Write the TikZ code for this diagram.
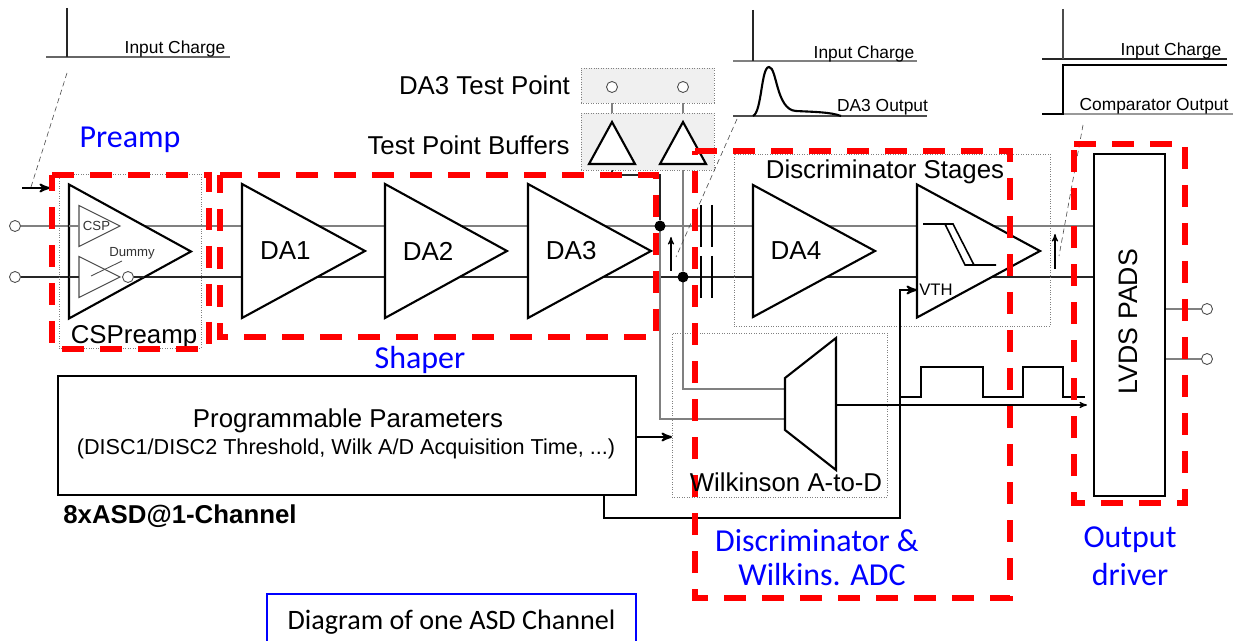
\documentclass[tikz,border=0pt]{standalone}
\usepackage{fontspec}
\setmainfont{Liberation Sans}
\newfontfamily\calibriFont{Carlito}
\usetikzlibrary{
    arrows,
    backgrounds,
    calc,
    shapes.geometric,
}
\newlength{\px}
\setlength{\px}{0.02cm}
\newcommand{\fs}[1]{\fontsize{#1}{#1}\selectfont}
\begin{document}
\begin{tikzpicture}[x=\px,y=-\px,>=stealth']

    \tikzstyle{commonNode}=[line width=1.2pt, draw=black, inner sep=0, outer sep=0, align=center]
    \tikzstyle{amp}=[commonNode, fill=white, isosceles triangle, isosceles triangle stretches, anchor=lower side, minimum width=134\px, minimum height=123\px, font=\fs{14.8pt}]
    \tikzstyle{smallAmp}=[amp, line width=0.6pt, draw=black!70, minimum width=41\px, minimum height=41\px, font=\fs{7.5pt}]
    \tikzstyle{buffer}=[amp, shape border rotate=90, minimum width=46\px, minimum height=42\px]
    \tikzstyle{box}=[commonNode, rectangle, fill=white, minimum width=0, minimum height=0]
    \tikzstyle{stage}=[rectangle, draw=black!50, line width=0.4pt, densely dotted, inner sep=0, outer sep=0]
    \tikzstyle{testBox}=[stage, fill=black!6]
    \tikzstyle{regionArea}=[rectangle, inner sep=0, outer sep=0]
    \tikzstyle{regionLine}=[draw=red, line width=2.9pt, dash pattern=on 22\px off 16\px]
    \tikzstyle{pin}=[circle, draw=black!70, fill=white, line width=0.5pt, minimum size=11\px, inner sep=0, outer sep=0]
    \tikzstyle{dot}=[circle, fill=black, minimum size=11\px, inner sep=0, outer sep=0]
    \tikzstyle{caption}=[inner sep=0, outer sep=0, font=\fs{9.9pt}]
    \tikzstyle{label}=[inner sep=0, outer sep=0, font=\fs{14.7pt}]
    \tikzstyle{blueLabel}=[inner sep=0, outer sep=0, text=blue, font=\calibriFont\fs{18.2pt}]
    \tikzstyle{wireTop}=[draw=black!50, line width=0.7pt]
    \tikzstyle{wireBot}=[draw=black!85, line width=0.7pt]
    \tikzstyle{leader}=[draw=black!70, line width=0.35pt, densely dashed]
    \tikzstyle{thin arrow}=[->, draw=black, line width=0.6pt]
    \tikzstyle{thick arrow}=[->, draw=black, line width=1.1pt]

    \useasboundingbox (0,0) rectangle (1233,641);

    % Test points and stage outlines
    \node at (647.5,85.5) [testBox, minimum width=133\px, minimum height=35\px] (TPbox) {};
    \node at (647.5,141.5) [testBox, minimum width=133\px, minimum height=57\px] (TBbox) {};
    \node at (130,261) [stage, minimum width=142\px, minimum height=174\px] (CSbox) {};
    \node at (892,240) [stage, minimum width=316\px, minimum height=172\px] (DSbox) {};
    \node at (779.5,415) [stage, minimum width=215\px, minimum height=164\px] (WKbox) {};

    % Inputs
    \node at (15,226) [pin] (INa) {};
    \node at (15,277) [pin] (INb) {};

    % Amplifiers
    \node at (69,251.5) [amp, minimum height=122\px] (CSP) {};
    \node at (79,226) [smallAmp] (CSPa) {};
    \node at (79,277) [smallAmp] (CSPb) {};
    \node at (128,277) [pin] (CSPout) {};
    \node at (242,251) [amp] (DAa) {DA1};
    \node at (385,251) [amp, minimum height=122\px] (DAb) {DA2};
    \node at (528,251) [amp] (DAc) {DA3};
    \node at (753,251) [amp, minimum width=132\px, minimum height=122\px] (DAd) {DA4};
    \node at (917,251) [amp, minimum width=133\px] (DISC) {};

    % Test point buffers
    \node at (612,164) [buffer] (BUFa) {};
    \node at (683,164) [buffer] (BUFb) {};
    \node at (612,87) [pin] (TPa) {};
    \node at (683,87) [pin] (TPb) {};

    % Output pads and parameters
    \node at (1129.5,325) [box, minimum width=71\px, minimum height=342\px] (LVDS) {};
    \node at (1128,322) [label, rotate=90, font=\fs{15.2pt}] (LVDStxt) {LVDS PADS};
    \node at (1207,309) [pin] (OUTa) {};
    \node at (1207,359) [pin] (OUTb) {};
    \node at (347,435.5) [box, minimum width=578\px, minimum height=119\px] (PP) {};
    \node at (348,421) [label] (PPa) {Programmable Parameters};
    \node at (346,449) [label, font=\fs{12.3pt}] (PPb) {(DISC1/DISC2 Threshold, Wilk A/D Acquisition Time, ...)};

    % Wilkinson ADC
    \coordinate (MUXa) at (785,378);
    \coordinate (MUXb) at (836,338);
    \coordinate (MUXc) at (836,470);
    \coordinate (MUXd) at (785,430);
    \draw[line width=1.2pt, fill=white] (MUXa) -- (MUXb) -- (MUXc) -- (MUXd) -- cycle;

    % Junctions
    \node at (660,226) [dot] (JNa) {};
    \node at (683,277) [dot] (JNb) {};

    % Free ends of the connectors
    \coordinate (CHGin) at (22,188);
    \coordinate (CHGhit) at (50,188);
    \coordinate (STPa) at (612,175);
    \coordinate (PULSEa) at (900,397);
    \coordinate (PULSEb) at (1085,397);
    \coordinate (VTHa) at (900,290);
    \coordinate (VTHb) at (917,290);

    \begin{pgfonlayer}{background}
        \draw[wireTop] (INa) -- (LVDS.west |- INa);
        \draw[wireBot] (INb) -- (LVDS.west |- INb);
        \draw[wireTop] (LVDS.east |- OUTa) -- (OUTa);
        \draw[wireTop] (LVDS.east |- OUTb) -- (OUTb);
        \draw[wireTop] (TPa) -- (BUFa.apex);
        \draw[wireTop] (TPb) -- (BUFb.apex);
        \draw[wireBot] (BUFa.lower side) -- (STPa) -| (JNa);
        \draw[wireTop] (JNa) |- (MUXa |- 0,419);
        \draw[wireTop] (BUFb.lower side) -- (JNb);
        \draw[wireTop] (JNb) |- (MUXa |- 0,389);
    \end{pgfonlayer}

    % Inside the preamp
    \draw[wireTop] (CSP.lower side |- CSPa) -- (CSPa.lower side);
    \draw[wireBot] (CSP.lower side |- CSPb) -- (CSPb.lower side);
    \coordinate (CSPedge) at (144,277);
    \draw[wireBot] (CSPout) -- (CSPedge);
    \coordinate (SLASHa) at (91,276);
    \coordinate (SLASHb) at (122,261);
    \draw[black!70, line width=0.5pt] (SLASHa) -- (SLASHb);
    \node at (96.5,226) [caption, font=\fs{7.5pt}, text=black!80] (CSPtxt) {CSP};
    \node at (132,253) [caption, font=\fs{7.5pt}, text=black!80] (DUMtxt) {Dummy};
    \node at (134,337) [label] (CStxt) {CSPreamp};

    % Coupling capacitors
    \draw[line width=1.6pt] (701,205) -- (701,247) (712,205) -- (712,247);
    \draw[line width=1.6pt] (701,256) -- (701,298) (712,256) -- (712,298);

    % Comparator hysteresis
    \coordinate (HYa) at (923,224);
    \coordinate (HYb) at (945,224);
    \coordinate (HYc) at (953,224);
    \coordinate (HYd) at (965,265);
    \coordinate (HYe) at (974,265);
    \coordinate (HYf) at (996,265);
    \draw[line width=0.9pt] (HYa) -- (HYc) -- (HYe);
    \draw[line width=0.9pt] (HYb) -- (HYd) -- (HYf);
    \node at (936,290) [caption, font=\fs{9.5pt}] (VTHtxt) {VTH};
    \draw[thick arrow] (PP.south -| 604,0) -- (604,518) -- (900,518) -- (VTHa) -- (VTHb);

    % Parameters into the ADC and ADC out
    \draw[thick arrow] (PP.east |- 0,437) -- (WKbox.west |- 0,437);
    \draw[thin arrow] (MUXb |- 0,405) -- (1087,405);
    \draw[line width=0.9pt] (PULSEa) -- (921,397) -- (921,367) -- (983,367) -- (983,397) -- (1023,397) -- (1023,367) -- (1063,367) -- (1063,397) -- (PULSEb);

    % Input charge, first plot
    \coordinate (AXa) at (46,57);
    \coordinate (AXb) at (230,57);
    \coordinate (AXc) at (67,8);
    \coordinate (AXd) at (67,57);
    \coordinate (LDa) at (67,73);
    \coordinate (LDb) at (31,187);
    \draw[black!60, line width=0.7pt] (AXa) -- (AXb);
    \draw[black!85, line width=1pt] (AXc) -- (AXd);
    \draw[leader] (LDa) -- (LDb);
    \draw[thick arrow] (CHGin) -- (CHGhit);
    \node at (175,49) [caption] (CHGa) {Input Charge};

    % DA3 output plot
    \coordinate (AYa) at (733,61);
    \coordinate (AYb) at (917,61);
    \coordinate (AYc) at (753,10);
    \coordinate (AYd) at (753,61);
    \coordinate (AYe) at (733,116);
    \coordinate (AYf) at (927,116);
    \coordinate (LEa) at (737,119);
    \coordinate (LEb) at (676,257);
    \coordinate (ARa) at (671,271);
    \coordinate (ARb) at (671,237);
    \draw[black!50, line width=0.9pt] (AYa) -- (AYb);
    \draw[black!85, line width=0.8pt] (AYc) -- (AYd);
    \draw[black!70, line width=0.7pt] (AYe) -- (AYf);
    \draw[line width=1.2pt] (753,116) .. controls (762,112) and (761,67) .. (769,67) .. controls (777,67) and (776,110) .. (796,111) .. controls (815,112) and (830,112) .. (841,116);
    \draw[leader] (LEa) -- (LEb);
    \draw[thin arrow] (ARa) -- (ARb);
    \node at (864,54) [caption] (CHGb) {Input Charge};
    \node at (882.5,107) [caption] (DAout) {DA3 Output};

    % Comparator output plot
    \coordinate (AZa) at (1042,59);
    \coordinate (AZb) at (1227,59);
    \coordinate (AZc) at (1063,9);
    \coordinate (AZd) at (1063,59);
    \coordinate (AZe) at (1042,114);
    \coordinate (AZf) at (1063,114);
    \coordinate (AZg) at (1063,65);
    \coordinate (AZh) at (1227,65);
    \coordinate (AZi) at (1233,114);
    \coordinate (LFa) at (1083,125);
    \coordinate (LFb) at (1059,256);
    \coordinate (ASa) at (1055,269);
    \coordinate (ASb) at (1055,234);
    \draw[black!85, line width=0.7pt] (AZa) -- (AZb);
    \draw[black!70, line width=0.7pt] (AZc) -- (AZd);
    \draw[black!40, line width=0.8pt] (AZf) -- (AZi);
    \draw[line width=1.4pt] (AZe) -- (AZf) -- (AZg) -- (AZh);
    \draw[leader] (LFa) -- (LFb);
    \draw[thin arrow] (ASa) -- (ASb);
    \node at (1171,51) [caption] (CHGc) {Input Charge};
    \node at (1154,106) [caption] (CMPout) {Comparator Output};

    % Stage titles
    \node at (484.5,85) [label] (TPtxt) {DA3 Test Point};
    \node at (468.5,145) [label] (TBtxt) {Test Point Buffers};
    \node at (885,172) [label] (DStxt) {Discriminator Stages};
    \node at (180,516) [label, font=\bfseries\fs{14.7pt}] (CHtxt) {8xASD@1-Channel};

    % Red regions
    \node at (130.5,262) [regionArea, minimum width=157\px, minimum height=174\px] (RGpre) {};
    \node at (438,256) [regionArea, minimum width=436\px, minimum height=162\px] (RGsha) {};
    \node at (852.5,374.5) [regionArea, minimum width=315\px, minimum height=447\px] (RGdis) {};
    \node at (1129.5,323.5) [regionArea, minimum width=111\px, minimum height=359\px] (RGout) {};
    \draw[regionLine] (RGpre.north west) -- (RGpre.north east) -- (RGpre.south east) -- (RGpre.south west) -- cycle;
    \draw[regionLine] (RGsha.north west) -- (RGsha.north east) -- (RGsha.south east) -- (RGsha.south west) -- cycle;
    \draw[regionLine] (RGdis.north west) -- (RGdis.north east) -- (RGdis.south east) -- (RGdis.south west) -- cycle;
    \draw[regionLine] (RGout.north west) -- (RGout.north east) -- (RGout.south east) -- (RGout.south west) -- cycle;

    % Blue region names
    \node at (130,140) [blueLabel] (NMpre) {Preamp};
    \node at (420,360) [blueLabel] (NMsha) {Shaper};
    \node at (817,541) [blueLabel] (NMdisa) {Discriminator \&};
    \node at (822,575) [blueLabel] (NMdisb) {Wilkins. ADC};
    \node at (1130,540) [blueLabel] (NMouta) {Output};
    \node at (1130,575) [blueLabel] (NMoutb) {driver};

    \node at (786,482) [label] (WKtxt) {Wilkinson A-to-D};

    % Diagram title
    \node at (451.5,622) [rectangle, draw=blue, line width=0.7pt, minimum width=369\px, minimum height=56\px, inner sep=0, outer sep=0, font=\calibriFont\fs{16pt}] (TITLE) {Diagram of one ASD Channel};

\end{tikzpicture}
\end{document}
